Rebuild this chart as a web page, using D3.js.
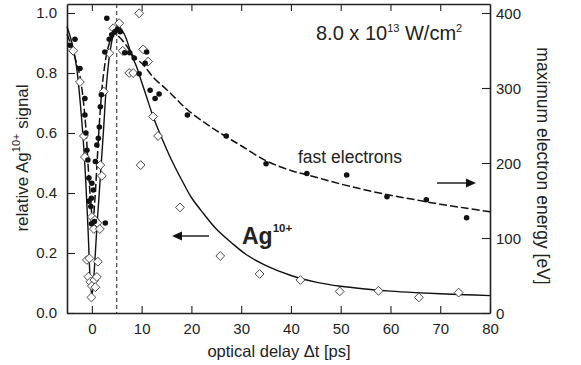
<!DOCTYPE html>
<html>
<head>
<meta charset="utf-8">
<script src="https://cdn.jsdelivr.net/npm/d3@7"></script>
<style>
  body { margin: 0; background: #fff; }
  text { font-family: Arial, "Liberation Sans", sans-serif; fill: #222; }
</style>
</head>
<body>
<svg width="581" height="365"></svg>
<script>
//Data

// Ag10+ signal, open diamonds (delay in ps, relative signal)
const agDelay = [-3.75, -2.4, -1.6, -1.4, -1.0, -0.5, 1.2, -0.7, -0.3, 0.5, 0.0, 0.7, 1.0, -0.1,
  0.0, 0.6, 0.4, 1.1, 1.6, 1.7, 2.0, 2.4, 3.5, 4.3, 5.5, 6.2, 7.5, 8.3, 9.5, 10.3, 11.3, 9.8,
  12.3, 13.3, 17.7, 25.8, 33.7, 41.9, 49.8, 57.6, 65.7, 73.7];
const agSignal = [0.874, 0.77, 0.59, 0.52, 0.177, 0.182, 0.171, 0.121, 0.104, 0.11, 0.09, 0.086, 0.12, 0.052,
  0.32, 0.31, 0.28, 0.30, 0.28, 0.493, 0.457, 0.738, 0.866, 0.949, 0.966, 0.874, 0.80, 0.80, 0.999, 0.879, 0.838, 0.493,
  0.655, 0.59, 0.352, 0.19, 0.13, 0.11, 0.072, 0.074, 0.052, 0.068];

// fast electrons, filled dots (delay in ps, max energy in eV)
const elDelay = [-4.4, -3.4, -2.4, -1.4, -1.4, -1.2, -1.0, -0.8, -0.6, 0.0, 0.3, -0.1, -0.2, -0.6,
  -0.1, 0.5, 0.7, 1.0, 1.3, 1.5, 1.7, 1.9, 2.6, 3.0, 3.5, 4.0, 4.6, 5.1, 5.7, 2.7,
  6.6, 7.6, 8.5, 9.5, 10.7, 11.0, 11.7, 12.7, 13.5, 19.2, 27.0, 35.0, 43.2, 51.2, 59.3, 67.2, 75.3];
const elEnergy = [357, 365, 326, 286, 264, 240, 217, 204, 180, 173, 164, 153, 142, 149,
  119, 122, 202, 224, 233, 248, 275, 291, 348, 393, 365, 371, 375, 378, 375, 120,
  347, 347, 340, 319, 333, 348, 297, 286, 292, 264, 236, 199, 186, 184, 155, 151, 127];

// fit curve for Ag10+ (solid)
const agFitDelay = [-5, -4, -3.1, -2.1, -1.4, -0.75, -0.3, 0, 0.3, 0.95, 1.6, 2.3, 2.95, 3.6, 4.3,
  5.3, 6.5, 8, 9, 10, 11, 12.3, 14, 16, 18, 20, 22.5, 25, 28, 31, 35, 40, 45, 50, 55, 60, 65, 70, 75, 80];
const agFitSignal = [0.955, 0.9, 0.822, 0.655, 0.49, 0.27, 0.1, 0.06, 0.1, 0.27, 0.43, 0.6, 0.765, 0.865, 0.925,
  0.955, 0.93, 0.86, 0.82, 0.77, 0.72, 0.655, 0.585, 0.51, 0.445, 0.385, 0.33, 0.28, 0.235, 0.195, 0.158,
  0.125, 0.103, 0.089, 0.08, 0.073, 0.068, 0.064, 0.061, 0.058];

// fit curve for fast electrons (dashed)
const elFitDelay = [-5, -4.1, -3.2, -2.4, -1.4, -0.74, -0.27, 0.2, 0.6, 1.07, 1.6, 2.3, 3.3, 4.4,
  5.5, 7, 8.3, 10.3, 12.5, 15, 17, 19.2, 23.7, 27, 30, 35, 40, 45, 50, 55, 60, 65, 70, 75, 80];
const elFitEnergy = [372, 356, 336, 316, 262, 195, 151, 122, 151, 204, 262, 316, 355, 372,
  368, 356, 343, 331, 313, 298, 285, 271, 249, 235, 223, 203, 190, 181, 172, 164, 157, 151, 145, 140, 135];

const xTicks = [0, 10, 20, 30, 40, 50, 60, 70, 80];
const leftTicks = [0, 0.2, 0.4, 0.6, 0.8, 1.0];
const rightTicks = [0, 100, 200, 300, 400];
const pumpDelay = 5;

const svg = d3.select('svg');

const x = d3.scaleLinear().domain([-5, 80]).range([67, 490]);
const yL = d3.scaleLinear().domain([0, 1.03]).range([313, 4]);
const yR = d3.scaleLinear().domain([0, 412]).range([313, 4]);

const ink = '#222';

//axes, ticks pointing inward
const gx = svg.append('g').attr('transform', 'translate(0,313)')
  .call(d3.axisBottom(x).tickValues(xTicks).tickSize(-7).tickSizeOuter(0).tickPadding(10));
const gt = svg.append('g').attr('transform', 'translate(0,4)')
  .call(d3.axisTop(x).tickValues(xTicks.slice(0, -1)).tickSize(-7).tickSizeOuter(0).tickFormat(''));
const gl = svg.append('g').attr('transform', 'translate(67,0)')
  .call(d3.axisLeft(yL).tickValues(leftTicks).tickSize(-8).tickSizeOuter(0).tickPadding(10).tickFormat(d3.format('.1f')));
const gr = svg.append('g').attr('transform', 'translate(490,0)')
  .call(d3.axisRight(yR).tickValues(rightTicks).tickSize(-8).tickSizeOuter(0).tickPadding(6));

[gx, gt, gl, gr].forEach(g => {
  g.selectAll('path.domain').attr('stroke', ink).attr('stroke-width', 1.6);
  g.selectAll('.tick line').attr('stroke', ink).attr('stroke-width', 1.1);
  g.selectAll('.tick text').attr('font-size', 15).attr('fill', ink).style('font-family', 'Arial, "Liberation Sans", sans-serif');
});
gr.selectAll('.tick text').attr('dy', '0.36em');

//dashed vertical line at pump delay
svg.append('line')
  .attr('x1', x(pumpDelay)).attr('x2', x(pumpDelay))
  .attr('y1', yL(1.03)).attr('y2', yL(0))
  .attr('stroke', ink).attr('stroke-width', 1).attr('stroke-dasharray', '4,3');

//fit curves
const agLine = d3.line().curve(d3.curveCatmullRom.alpha(0.5))
  .x((d, i) => x(agFitDelay[i])).y(d => yL(d));
svg.append('path')
  .attr('d', agLine(agFitSignal))
  .attr('fill', 'none').attr('stroke', '#111').attr('stroke-width', 1.4);

const elLine = d3.line().curve(d3.curveCatmullRom.alpha(0.5))
  .x((d, i) => x(elFitDelay[i])).y(d => yR(d));
svg.append('path')
  .attr('d', elLine(elFitEnergy))
  .attr('fill', 'none').attr('stroke', '#111').attr('stroke-width', 1.5)
  .attr('stroke-dasharray', '8,3');

//markers
const diamond = d3.symbol().type(d3.symbolDiamond2).size(50);
svg.append('g').selectAll('path')
  .data(agSignal)
  .enter().append('path')
    .attr('d', diamond)
    .attr('transform', (d, i) => `translate(${x(agDelay[i])},${yL(d)})`)
    .attr('fill', '#fff').attr('stroke', '#333').attr('stroke-width', 0.9);

svg.append('g').selectAll('circle')
  .data(elEnergy)
  .enter().append('circle')
    .attr('cx', (d, i) => x(elDelay[i]))
    .attr('cy', d => yR(d))
    .attr('r', 2.8)
    .attr('fill', '#111');

//annotations
const title = svg.append('text').attr('x', 316).attr('y', 40).attr('font-size', 20);
title.append('tspan').text('8.0 x 10');
title.append('tspan').attr('font-size', 11).attr('dy', -8).text('13');
title.append('tspan').attr('dy', 8).text(' W/cm');
title.append('tspan').attr('font-size', 11).attr('dy', -8).text('2');

svg.append('text').attr('x', 298).attr('y', 163).attr('font-size', 17.5).text('fast electrons');

const ag = svg.append('text').attr('x', 242).attr('y', 244).attr('font-size', 23).attr('font-weight', 'bold');
ag.append('tspan').text('Ag');
ag.append('tspan').attr('font-size', 11.5).attr('dy', -12).text('10+');

const arrowHead = (tipX, y, dir) =>
  `M${tipX},${y} L${tipX - dir * 10},${y - 4.5} L${tipX - dir * 10},${y + 4.5} Z`;
svg.append('line').attr('x1', 437).attr('x2', 468).attr('y1', 183).attr('y2', 183)
  .attr('stroke', ink).attr('stroke-width', 1.5);
svg.append('path').attr('d', arrowHead(476, 183, 1)).attr('fill', '#111');
svg.append('line').attr('x1', 209).attr('x2', 180).attr('y1', 236).attr('y2', 236)
  .attr('stroke', ink).attr('stroke-width', 1.5);
svg.append('path').attr('d', arrowHead(172, 236, -1)).attr('fill', '#111');

//axis titles
svg.append('text')
  .attr('x', 279).attr('y', 357).attr('text-anchor', 'middle').attr('font-size', 16.5)
  .text('optical delay \u0394t [ps]');

const yl = svg.append('text')
  .attr('transform', 'translate(28,158) rotate(-90)')
  .attr('text-anchor', 'middle').attr('font-size', 17);
yl.append('tspan').text('relative Ag');
yl.append('tspan').attr('font-size', 11).attr('dy', -8).text('10+');
yl.append('tspan').attr('dy', 8).text(' signal');

svg.append('text')
  .attr('transform', 'translate(537,166) rotate(90)')
  .attr('text-anchor', 'middle').attr('font-size', 17.5)
  .text('maximum electron energy [eV]');
</script>
</body>
</html>
